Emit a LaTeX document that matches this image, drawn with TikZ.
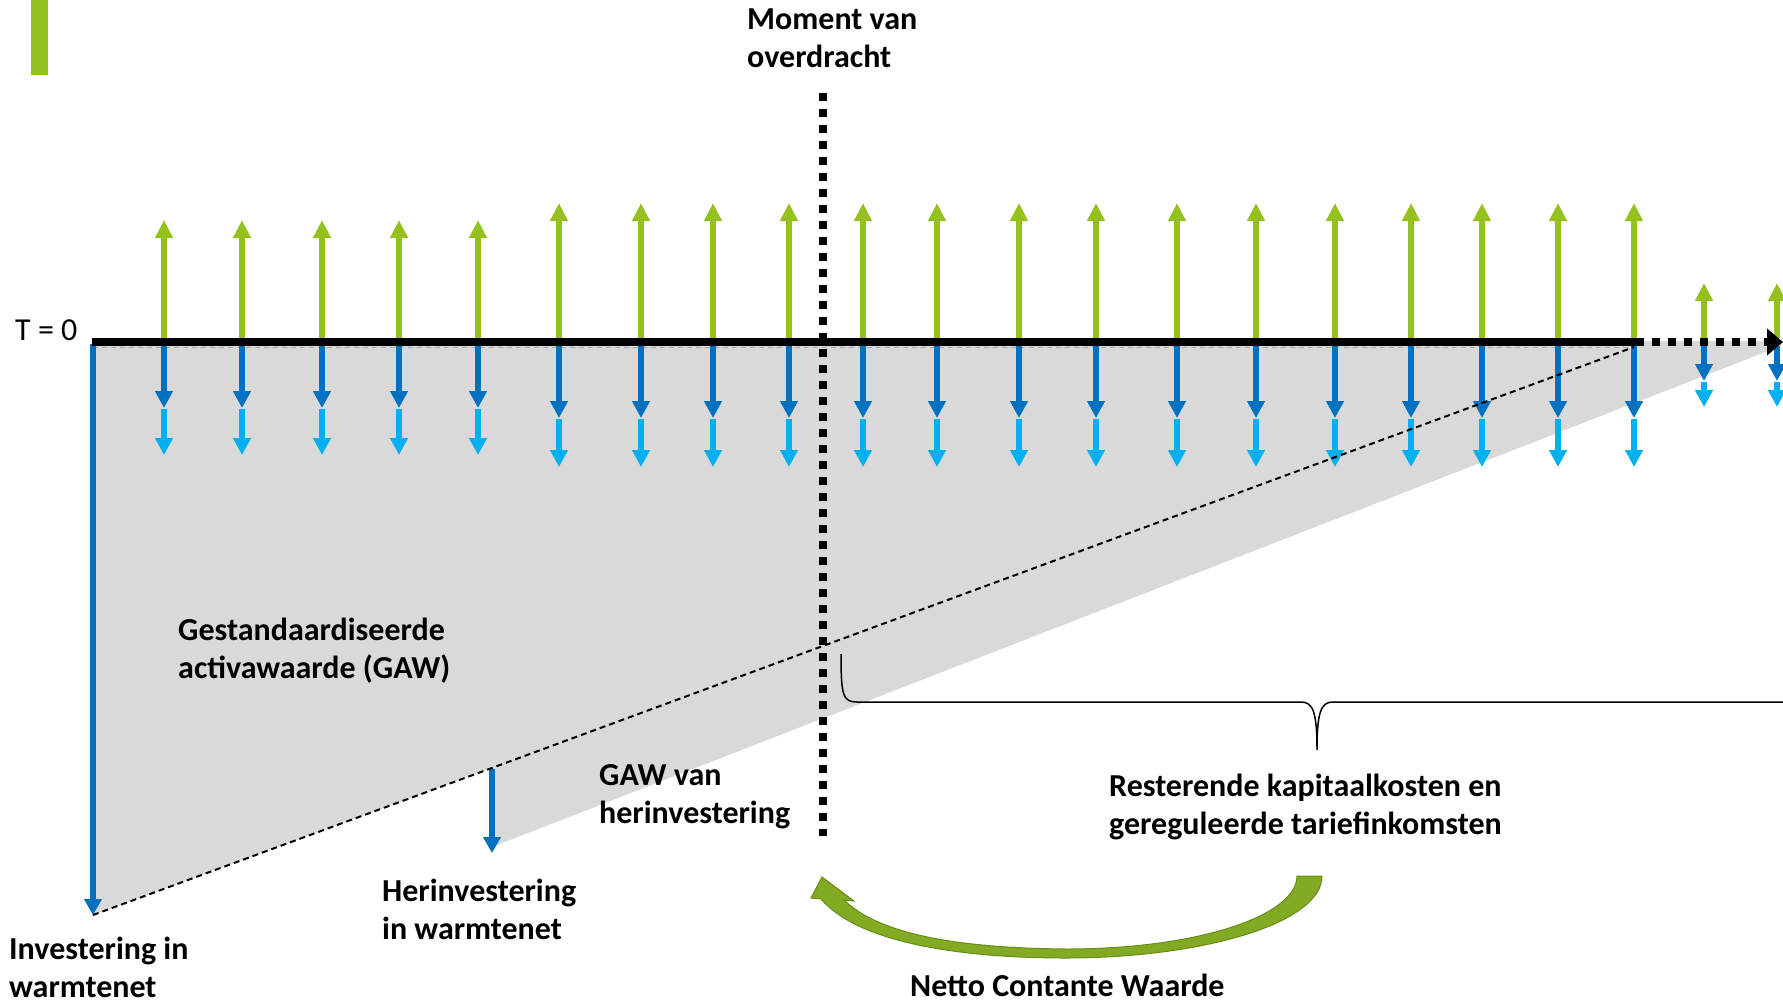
\documentclass[tikz,border=0pt]{standalone}
\usepackage{fontspec}
\setmainfont{Carlito}
\usetikzlibrary{arrows.meta}
\definecolor{agreen}{HTML}{95C11F}
\definecolor{dblue}{HTML}{0070C0}
\definecolor{lblue}{HTML}{00B0F0}
\definecolor{gfill}{HTML}{D9D9D9}
\definecolor{cgreen}{HTML}{82AA22}
\definecolor{cgreendk}{HTML}{6A8C1A}
\begin{document}
\begin{tikzpicture}[x=1pt,y=-1pt,
  lbl/.style={font=\fontsize{32}{38}\selectfont\bfseries, align=left, inner sep=0pt, anchor=west},
  uparr/.style={agreen, line width=6pt, -{Triangle[width=17pt,length=18pt]}},
  dnarr/.style={dblue, line width=6pt, -{Triangle[width=17pt,length=17pt]}},
  lbarr/.style={lblue, line width=6pt, -{Triangle[width=17pt,length=17pt]}},
  dotline/.style={line width=8pt, dash pattern=on 8pt off 8pt},
]
\useasboundingbox (0,0) rectangle (1783,1002);
% green bar
\fill[agreen] (31,0) rectangle (48,75);
% grey area
\fill[gfill] (93,341) -- (1781,341) -- (1781,346) -- (492,847) -- (492,768) -- (93,915) -- cycle;
\draw[gray!70, line width=1.2pt, dash pattern=on 5pt off 4pt] (93,347.5) -- (1635,347.5);
% cash flow arrows
\foreach \x in {164,242,322,399,478}{
  \draw[uparr] (\x,338) -- (\x,220);
  \draw[dnarr] (\x,346) -- (\x,408);
  \draw[lbarr] (\x,409) -- (\x,455);
}
\foreach \x in {559,641,713,789,863,937,1019,1096,1177,1256,1335,1411,1482,1558,1634}{
  \draw[uparr] (\x,338) -- (\x,203);
  \draw[dnarr] (\x,346) -- (\x,418);
  \draw[lbarr] (\x,419) -- (\x,467);
}
\foreach \x in {1704,1777}{
  \draw[uparr] (\x,338) -- (\x,283);
  \draw[dnarr] (\x,346) -- (\x,381);
  \draw[lbarr] (\x,382) -- (\x,407);
}
% investment arrows
\coordinate (inv0) at (93,344);
\coordinate (inv1) at (93,915);
\draw[dblue, line width=6pt, -{Triangle[width=17pt,length=16pt]}] (inv0) -- (inv1);
\coordinate (her0) at (492,769);
\coordinate (her1) at (492,853);
\draw[dblue, line width=6pt, -{Triangle[width=17pt,length=16pt]}] (her0) -- (her1);
% dashed depreciation line
\coordinate (d0) at (93,915);
\coordinate (d1) at (1634,347);
\draw[line width=2pt, dash pattern=on 6pt off 4pt] (d0) -- (d1);
% time axis
\coordinate (a0) at (92,342);
\coordinate (a1) at (1636,342);
\coordinate (a2) at (1783,342);
\draw[line width=8pt] (a0) -- (a1);
\draw[dotline, -{Triangle[width=26pt,length=16pt]}] (a1) -- (a2);
% vertical transfer line
\coordinate (v0) at (823,93);
\coordinate (v1) at (823,836);
\draw[dotline] (v0) -- (v1);
% brace
\draw[line width=1.5pt] (841,654) .. controls (841,696) and (843,702) .. (857,702)
  -- (1301,702) .. controls (1313,702) and (1317,712) .. (1317,750)
  .. controls (1317,712) and (1321,702) .. (1333,702) -- (1790,702);
% curved green arrow
\fill[cgreen, draw=cgreendk, line width=1pt]
  (1322,876) -- (1297,876)
  .. controls (1297,915) and (1200,949) .. (1066,949)
  .. controls (960,948) and (880,935) .. (844,900)
  -- (854,901) -- (822,877) -- (811,898) -- (821,899)
  .. controls (856,940) and (950,958) .. (1066,958)
  .. controls (1200,958) and (1322,924) .. (1322,876) -- cycle;
% labels
\node[lbl] (moment) at (747,38) {Moment van\\overdracht};
\node[lbl, font=\fontsize{32}{38}\selectfont] (t0) at (15,330) {T = 0};
\node[lbl] (gaw) at (178,651) {Gestandaardiseerde\\activawaarde (GAW)};
\node[lbl] (gawher) at (599,797) {GAW van\\herinvestering};
\node[lbl] (herinv) at (382,909) {Herinvestering\\in warmtenet};
\node[lbl] (inv) at (9,967) {Investering in\\warmtenet};
\node[lbl] (rest) at (1109,807) {Resterende kapitaalkosten en\\gereguleerde tariefinkomsten};
\node[lbl] (ncw) at (910,985) {Netto Contante Waarde};
\end{tikzpicture}
\end{document}
